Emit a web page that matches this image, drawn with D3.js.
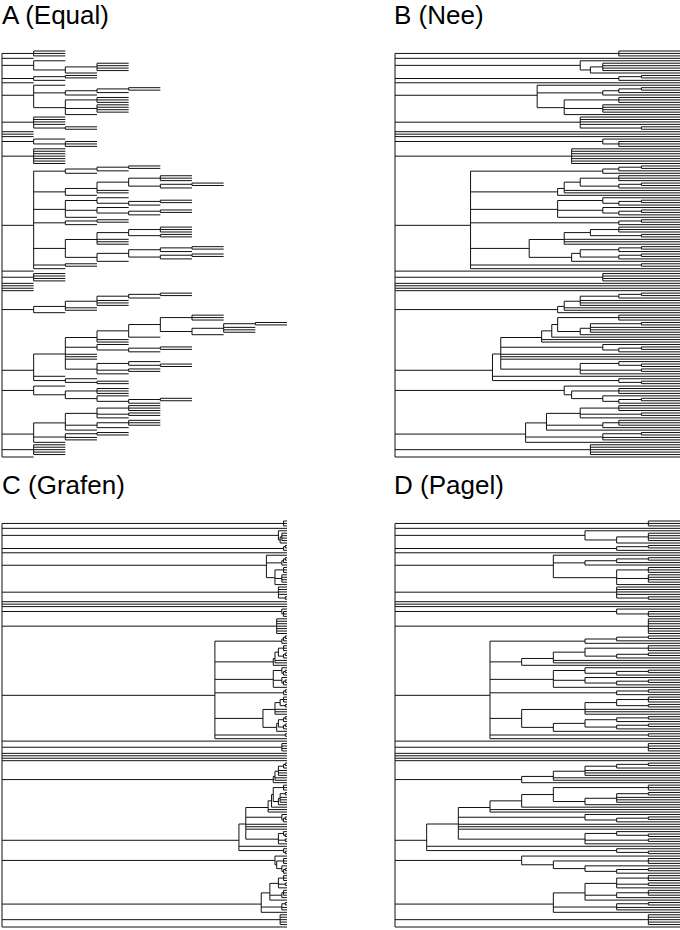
<!DOCTYPE html>
<html><head><meta charset="utf-8">
<script src="https://cdn.jsdelivr.net/npm/d3@7"></script>
<style>body{margin:0;background:#fff}svg{display:block}</style>
</head><body>
<svg id="c" width="680" height="930"></svg>
<script>
// Tree topology: children of the root, top to bottom (Newick, "t" = tip)
const rootClades = [
  "(t,t,t)",
  "t",
  "(t,((t,t,t,t),t))",
  "((t,t),t)",
  "t",
  "(t,(((t,t),t),t),((t,t,t),(t,t,t,t),t))",
  "(t,t,t,t,(t,t))",
  "t", "t", "t",
  "(t,(t,t,t))",
  "(t,t,t,t,t,t,t)",
  "((((t,t),t),t),((((t,t,t),((t,t),t)),t,t),t),((t,((t,t),t)),(t,((t,t),t)),t),((t,t),t),((((t,t,t),(t,t)),t,t,t),((((t,t),t),((t,t),t)),t)),(t,t),t)",
  "t",
  "(t,t,t,t)",
  "t", "t", "t", "t",
  "(((((t,t),t),t,t,t),t,t),t)",
  "((((((t,t,t),(((t,t),t,t,t),t)),t),t,t),(t,((t,t),t)),t,t,t,((t,(t,t)),(t,t),t)),t,(t,(t,t)))",
  "(t,((t,t,t),(t,((t,t),t))))",
  "((((t,t,t),(t,t),t),((t,t,t),t),t),((t,t),t,t),t)",
  "(t,t,t,t,t)",
  "t"
];
const panelTitles = ["A (Equal)", "B (Nee)", "C (Grafen)", "D (Pagel)"];
const panelMethods = ["equal", "nee", "grafen", "pagel"];

function parseNewick(s) {
  let i = 0;
  function node() {
    if (s[i] === "(") {
      i++;
      const ch = [];
      while (i < s.length) {
        ch.push(node());
        if (s[i] === ",") { i++; continue; }
        if (s[i] === ")") { i++; break; }
      }
      return { children: ch };
    }
    let lab = "";
    while (i < s.length && !",()".includes(s[i])) { lab += s[i]; i++; }
    return { name: lab };
  }
  return node();
}

const rootData = { children: rootClades.map(parseNewick) };
const svg = d3.select("#c");

const layout = [
  { x0: 2, y0: 51, tx: 2, ty: 24 },
  { x0: 395, y0: 51, tx: 394, ty: 24 },
  { x0: 2, y0: 521, tx: 2, ty: 494 },
  { x0: 395, y0: 521, tx: 394, ty: 494 }
];
const W = 285, H = 406;

panelMethods.forEach((m, pi) => {
  const L = layout[pi];
  const root = d3.hierarchy(rootData);
  root.count();
  const N = root.value;
  const leaves = root.leaves();
  const maxDepth = d3.max(leaves, d => d.depth);
  let val, maxV;
  if (m === "equal") { val = d => d.depth; maxV = maxDepth; }
  else if (m === "pagel") { val = d => root.height - d.height; maxV = root.height; }
  else if (m === "nee") { val = d => Math.log(N) - Math.log(d.value); maxV = Math.log(N); }
  else { val = d => (N - 1) - (d.value - 1); maxV = N - 1; }

  const x = d3.scaleLinear().domain([0, maxV]).range([L.x0, L.x0 + W]);
  const y = d3.scaleLinear().domain([0, N - 1]).range([L.y0, L.y0 + H]);
  leaves.forEach((d, i) => d.yy = y(i));
  root.eachAfter(d => { if (d.children) d.yy = d3.mean(d.children, c => c.yy); });

  const g = svg.append("g");
  const nodes = root.descendants();
  g.selectAll("line.h").data(nodes.filter(d => d.parent)).join("line")
    .attr("x1", d => x(val(d.parent))).attr("x2", d => x(val(d)))
    .attr("y1", d => d.yy).attr("y2", d => d.yy)
    .attr("stroke", "#111").attr("stroke-width", 1);
  g.selectAll("line.v").data(nodes.filter(d => d.children)).join("line")
    .attr("x1", d => x(val(d))).attr("x2", d => x(val(d)))
    .attr("y1", d => d.children[0].yy).attr("y2", d => d.children[d.children.length - 1].yy)
    .attr("stroke", "#111").attr("stroke-width", 1);

  svg.append("text").attr("x", L.tx).attr("y", L.ty)
    .attr("font-family", "Liberation Sans, Arial, sans-serif")
    .attr("font-size", 26).attr("fill", "#000").text(panelTitles[pi]);
});
</script>
</body></html>
